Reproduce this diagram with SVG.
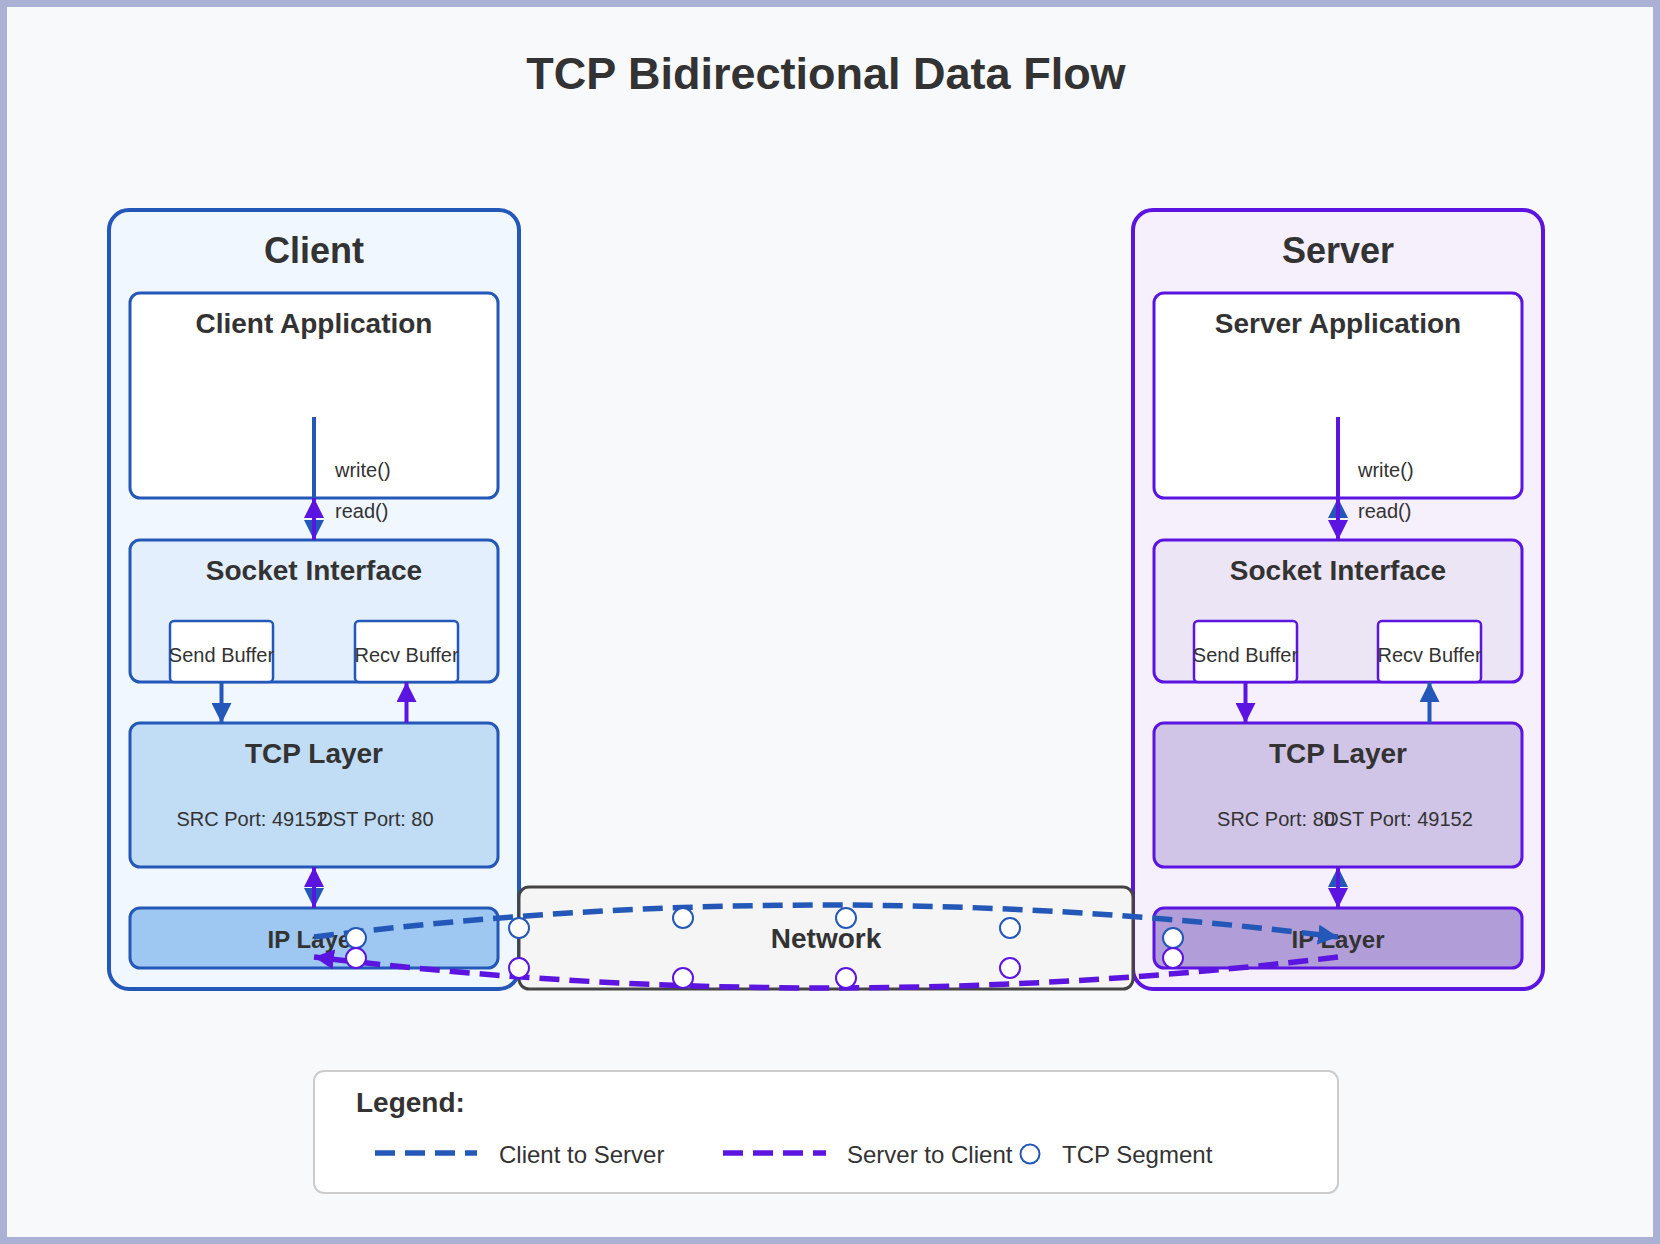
<svg xmlns="http://www.w3.org/2000/svg" width="1660" height="1244" viewBox="0 0 1660 1244">
<defs>
<style>
.t{font-family:"Liberation Sans",Arial,sans-serif;fill:#333;text-anchor:middle}
.b{font-weight:bold}
.cb{stroke:#2458b8}
.sp{stroke:#5c14e0}
.ln{stroke-width:4;fill:none}
.dl{stroke-width:5.5;fill:none;stroke-dasharray:20,10}
.seg{fill:#fff;stroke-width:2}
</style>
<marker id="ab" markerUnits="userSpaceOnUse" markerWidth="20" markerHeight="20" refX="20" refY="10" orient="auto"><path d="M0,0 L20,10 L0,20 z" fill="#2458b8"/></marker>
<marker id="ap" markerUnits="userSpaceOnUse" markerWidth="20" markerHeight="20" refX="20" refY="10" orient="auto"><path d="M0,0 L20,10 L0,20 z" fill="#5c14e0"/></marker>
</defs>
<rect x="0" y="0" width="1660" height="1244" fill="#f8f9fa" stroke="#abb0d5" stroke-width="14"/>
<text class="t b" x="826" y="89" font-size="45">TCP Bidirectional Data Flow</text>

<g id="client">
<rect x="109" y="210" width="410" height="779" rx="20" fill="#f0f7ff" stroke="#2458b8" stroke-width="4"/>
<text class="t b" x="314" y="263" font-size="36">Client</text>
<g id="client-app">
<rect x="130" y="293" width="368" height="205" rx="10" fill="#fff" stroke="#2458b8" stroke-width="3"/>
<text class="t b" x="314" y="333" font-size="28">Client Application</text>
</g>
<g id="client-socket">
<rect x="130" y="540" width="368" height="142" rx="10" fill="#e3effc" stroke="#2458b8" stroke-width="3"/>
<text class="t b" x="314" y="580" font-size="28">Socket Interface</text>
<rect x="170" y="621" width="103" height="61" rx="4" fill="#fff" stroke="#2458b8" stroke-width="2.5"/>
<text class="t" x="221.5" y="662" font-size="20">Send Buffer</text>
<rect x="355" y="621" width="103" height="61" rx="4" fill="#fff" stroke="#2458b8" stroke-width="2.5"/>
<text class="t" x="406.5" y="662" font-size="20">Recv Buffer</text>
</g>
<g id="client-tcp">
<rect x="130" y="723" width="368" height="144" rx="10" fill="#c1dcf5" stroke="#2458b8" stroke-width="3"/>
<text class="t b" x="314" y="763" font-size="28">TCP Layer</text>
<text class="t" x="252" y="826" font-size="20">SRC Port: 49152</text>
<text class="t" x="376" y="826" font-size="20">DST Port: 80</text>
</g>
<g id="client-ip">
<rect x="130" y="908" width="368" height="60" rx="10" fill="#9ec8f1" stroke="#2458b8" stroke-width="3"/>
<text class="t b" x="314" y="948" font-size="24">IP Layer</text>
</g>
</g>

<g id="server">
<rect x="1133" y="210" width="410" height="779" rx="20" fill="#f6f0fd" stroke="#5c14e0" stroke-width="4"/>
<text class="t b" x="1338" y="263" font-size="36">Server</text>
<g id="server-app">
<rect x="1154" y="293" width="368" height="205" rx="10" fill="#fff" stroke="#5c14e0" stroke-width="3"/>
<text class="t b" x="1338" y="333" font-size="28">Server Application</text>
</g>
<g id="server-socket">
<rect x="1154" y="540" width="368" height="142" rx="10" fill="#ebe5f5" stroke="#5c14e0" stroke-width="3"/>
<text class="t b" x="1338" y="580" font-size="28">Socket Interface</text>
<rect x="1194" y="621" width="103" height="61" rx="4" fill="#fff" stroke="#5c14e0" stroke-width="2.5"/>
<text class="t" x="1245.5" y="662" font-size="20">Send Buffer</text>
<rect x="1378" y="621" width="103" height="61" rx="4" fill="#fff" stroke="#5c14e0" stroke-width="2.5"/>
<text class="t" x="1429.5" y="662" font-size="20">Recv Buffer</text>
</g>
<g id="server-tcp">
<rect x="1154" y="723" width="368" height="144" rx="10" fill="#d0c5e7" stroke="#5c14e0" stroke-width="3"/>
<text class="t b" x="1338" y="763" font-size="28">TCP Layer</text>
<text class="t" x="1276" y="826" font-size="20">SRC Port: 80</text>
<text class="t" x="1398.5" y="826" font-size="20">DST Port: 49152</text>
</g>
<g id="server-ip">
<rect x="1154" y="908" width="368" height="60" rx="10" fill="#b19dd7" stroke="#5c14e0" stroke-width="3"/>
<text class="t b" x="1338" y="948" font-size="24">IP Layer</text>
</g>
</g>

<g id="network">
<rect x="519" y="887" width="614" height="102" rx="10" fill="#f5f5f5" stroke="#444" stroke-width="3"/>
<text class="t b" x="826" y="948" font-size="28">Network</text>
</g>

<g id="connectors">
<line class="ln cb" x1="314" y1="417" x2="314" y2="540" marker-end="url(#ab)"/>
<line class="ln sp" x1="314" y1="540" x2="314" y2="498" marker-end="url(#ap)"/>
<text class="t" x="335" y="477" font-size="20" style="text-anchor:start">write()</text>
<text class="t" x="335" y="518" font-size="20" style="text-anchor:start">read()</text>
<line class="ln cb" x1="221.5" y1="682" x2="221.5" y2="723" marker-end="url(#ab)"/>
<line class="ln sp" x1="406.5" y1="723" x2="406.5" y2="682" marker-end="url(#ap)"/>
<line class="ln cb" x1="314" y1="867" x2="314" y2="908" marker-end="url(#ab)"/>
<line class="ln sp" x1="314" y1="908" x2="314" y2="867" marker-end="url(#ap)"/>

<line class="ln cb" x1="1338" y1="540" x2="1338" y2="498" marker-end="url(#ab)"/>
<line class="ln sp" x1="1338" y1="417" x2="1338" y2="540" marker-end="url(#ap)"/>
<text class="t" x="1358" y="477" font-size="20" style="text-anchor:start">write()</text>
<text class="t" x="1358" y="518" font-size="20" style="text-anchor:start">read()</text>
<line class="ln sp" x1="1245.5" y1="682" x2="1245.5" y2="723" marker-end="url(#ap)"/>
<line class="ln cb" x1="1429.5" y1="723" x2="1429.5" y2="682" marker-end="url(#ab)"/>
<line class="ln cb" x1="1338" y1="908" x2="1338" y2="867" marker-end="url(#ab)"/>
<line class="ln sp" x1="1338" y1="867" x2="1338" y2="908" marker-end="url(#ap)"/>

<path class="dl cb" d="M314,937 Q826,873 1338,937" marker-end="url(#ab)"/>
<path class="dl sp" d="M1338,957 Q826,1019 314,957" marker-end="url(#ap)"/>
</g>

<g id="segments">
<circle class="seg cb" cx="356" cy="938" r="10"/>
<circle class="seg cb" cx="519" cy="928" r="10"/>
<circle class="seg cb" cx="683" cy="918" r="10"/>
<circle class="seg cb" cx="846" cy="918" r="10"/>
<circle class="seg cb" cx="1010" cy="928" r="10"/>
<circle class="seg cb" cx="1173" cy="938" r="10"/>
<circle class="seg sp" cx="356" cy="958" r="10"/>
<circle class="seg sp" cx="519" cy="968" r="10"/>
<circle class="seg sp" cx="683" cy="978" r="10"/>
<circle class="seg sp" cx="846" cy="978" r="10"/>
<circle class="seg sp" cx="1010" cy="968" r="10"/>
<circle class="seg sp" cx="1173" cy="958" r="10"/>
</g>

<g id="legend">
<rect x="314" y="1071" width="1024" height="122" rx="10" fill="#fff" stroke="#ccc" stroke-width="2"/>
<text class="t b" x="356" y="1112" font-size="28" style="text-anchor:start">Legend:</text>
<line class="dl cb" x1="375" y1="1153" x2="477" y2="1153"/>
<text class="t" x="499" y="1163" font-size="24" style="text-anchor:start">Client to Server</text>
<line class="dl sp" x1="723" y1="1153" x2="826" y2="1153"/>
<text class="t" x="847" y="1163" font-size="24" style="text-anchor:start">Server to Client</text>
<circle class="seg cb" cx="1030" cy="1154" r="9.5"/>
<text class="t" x="1062" y="1163" font-size="24" style="text-anchor:start">TCP Segment</text>
</g>
</svg>
